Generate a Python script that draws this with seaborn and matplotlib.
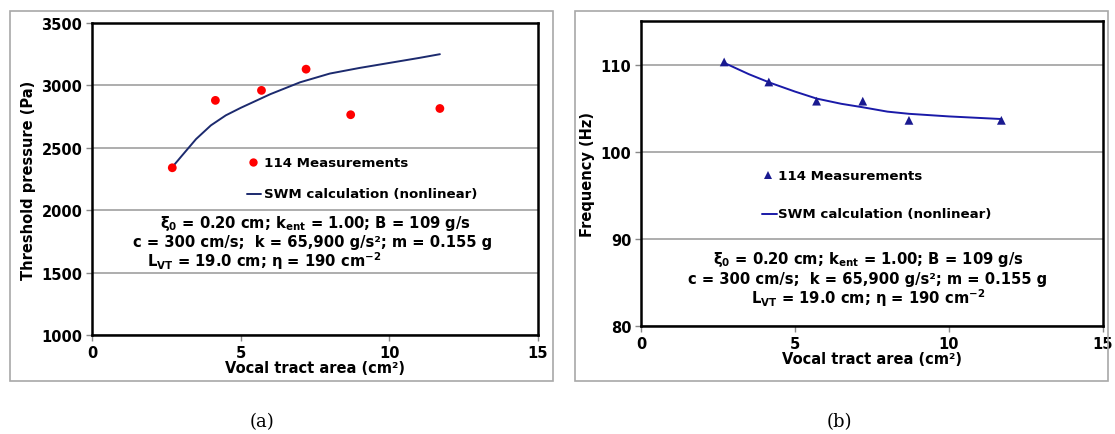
import matplotlib
matplotlib.use("Agg")
import matplotlib.pyplot as plt
import seaborn as sns
import pandas as pd
from matplotlib.patches import Rectangle

# measured data (a) threshold pressure, (b) frequency
area_meas = [2.7, 4.15, 5.7, 7.2, 8.7, 11.7]
pressure_meas = [2340, 2880, 2960, 3130, 2765, 2815]
freq_meas = [110.3, 108.0, 105.8, 105.8, 103.6, 103.6]

# SWM calculation curves
area_calc = [2.7, 3.0, 3.5, 4.0, 4.5, 5.0, 6.0, 7.0, 8.0, 9.0, 10.0, 11.0, 11.7]
pressure_calc = [2345, 2430, 2570, 2680, 2760, 2820, 2930, 3025, 3095, 3140, 3180, 3220, 3250]
area_calc_b = [2.7, 3.5, 4.2, 5.0, 5.7, 6.5, 7.2, 8.0, 8.7, 10.0, 11.7]
freq_calc = [110.2, 108.9, 107.9, 106.9, 106.1, 105.5, 105.1, 104.6, 104.35, 104.05, 103.75]

x_ticks = [0, 5, 10, 15]
p_ticks = [1000, 1500, 2000, 2500, 3000, 3500]
f_ticks = [80, 90, 100, 110]

params = [r"ξ$_0$ = 0.20 cm; k$_{ent}$ = 1.00; B = 109 g/s",
          "c = 300 cm/s;  k = 65,900 g/s²; m = 0.155 g",
          r"L$_{VT}$ = 19.0 cm; η = 190 cm$^{-2}$"]

sns.set_theme(style="white")
plt.rcParams['font.family'] = ['DejaVu Sans']
plt.rcParams['font.weight'] = 'bold'
plt.rcParams['mathtext.fontset'] = 'dejavusans'
plt.rcParams['mathtext.default'] = 'bf'
plt.rcParams['text.color'] = 'black'
plt.rcParams['axes.labelcolor'] = 'black'
plt.rcParams['xtick.color'] = 'black'
plt.rcParams['ytick.color'] = 'black'

W, H = 1115, 435
fig = plt.figure(figsize=(W / 100, H / 100), dpi=100)

# gray frames around the panels
for x0, x1 in [(10, 553), (575, 1108)]:
    fig.patches.append(Rectangle((x0 / W, 1 - 382 / H), (x1 - x0) / W, 370 / H,
                                 transform=fig.transFigure, fill=False,
                                 edgecolor='#a8a8a8', linewidth=1.2))

ax1 = fig.add_axes([92 / W, 1 - 336 / H, 446 / W, 312 / H])
ax2 = fig.add_axes([641 / W, 1 - 327 / H, 462 / W, 305 / H])

df_a = pd.DataFrame({"area": area_meas, "p": pressure_meas, "f": freq_meas})
calc_a = pd.DataFrame({"area": area_calc, "p": pressure_calc})
calc_b = pd.DataFrame({"area": area_calc_b, "f": freq_calc})

sns.lineplot(data=calc_a, x="area", y="p", ax=ax1, color='#1c2a6e', linewidth=1.4)
sns.scatterplot(data=df_a, x="area", y="p", ax=ax1, color='#ff0000', s=40,
                edgecolor='none', zorder=3)
sns.lineplot(data=calc_b, x="area", y="f", ax=ax2, color='#1a1aa8', linewidth=1.4)
sns.scatterplot(data=df_a, x="area", y="f", ax=ax2, color='#1a1a90', marker='^',
                s=40, edgecolor='none', zorder=3)

for ax, yt, ylim, ylab in [(ax1, p_ticks, (1000, 3500), 'Threshold pressure (Pa)'),
                           (ax2, f_ticks, (80, 115), 'Frequency (Hz)')]:
    ax.set_xlim(0, 15)
    ax.set_ylim(*ylim)
    ax.set_xticks(x_ticks)
    ax.set_yticks(yt)
    ax.tick_params(axis='both', labelsize=10.5, length=4, width=1, color='#888888',
                   labelcolor='black', direction='out', bottom=True, left=True, pad=3)
    for lab in ax.get_xticklabels() + ax.get_yticklabels():
        lab.set_fontweight('bold')
    ax.yaxis.grid(True, color='#a0a0a0', linewidth=1.2)
    ax.set_axisbelow(True)
    for s in ax.spines.values():
        s.set_color('black')
        s.set_linewidth(1.8)
    ax.set_xlabel('Vocal tract area (cm²)', fontsize=10.5, fontweight='bold', labelpad=0)
    ax.set_ylabel(ylab, fontsize=10.5, fontweight='bold', labelpad=4)

# legends drawn as text inside the axes
ax1.plot([5.42], [2385], 'o', color='#ff0000', markersize=6, markeredgewidth=0)
ax1.text(5.77, 2385, '114 Measurements', fontsize=9.6, fontweight='bold', va='center')
ax1.plot([5.2, 5.7], [2130, 2130], color='#1c2a6e', linewidth=1.4)
ax1.text(5.77, 2130, 'SWM calculation (nonlinear)', fontsize=9.6, fontweight='bold', va='center')
for (x, y), t in zip([(2.28, 1905), (1.38, 1753), (1.85, 1601)], params):
    ax1.text(x, y, t, fontsize=10.6, fontweight='bold', va='center', ha='left')

ax2.plot([4.12], [97.3], '^', color='#1a1a90', markersize=6, markeredgewidth=0)
ax2.text(4.45, 97.3, '114 Measurements', fontsize=9.6, fontweight='bold', va='center')
ax2.plot([3.93, 4.4], [92.9, 92.9], color='#1a1aa8', linewidth=1.4)
ax2.text(4.45, 92.9, 'SWM calculation (nonlinear)', fontsize=9.6, fontweight='bold', va='center')
for y, t in zip([87.7, 85.4, 83.3], params):
    ax2.text(7.37, y, t, fontsize=10.6, fontweight='bold', va='center', ha='center')

fig.text(262 / W, 1 - 422 / H, '(a)', fontsize=13, ha='center', va='center',
         fontweight='normal', family='DejaVu Serif')
fig.text(839 / W, 1 - 422 / H, '(b)', fontsize=13, ha='center', va='center',
         fontweight='normal', family='DejaVu Serif')

fig.savefig('out.png', dpi=100)
